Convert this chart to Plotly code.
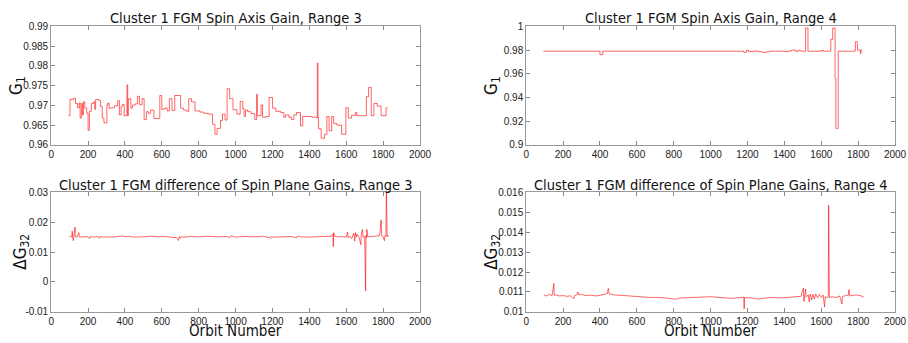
import plotly.graph_objects as go

# ---------------- data ----------------
# Top-left: spin axis gain, range 3 (step series)
tl_orbit = [93, 102, 120, 132, 143, 152, 157, 164, 170, 175, 182, 193, 200, 207, 218, 230, 236, 241,
            259, 268, 277, 286, 302, 307, 314, 329, 343, 361, 370, 379, 386, 396, 411, 415, 418, 425,
            432, 441, 455, 468, 479, 493, 504, 516, 527, 539, 557, 571, 589, 600, 614, 629, 641, 655,
            670, 702, 718, 736, 746, 761, 780, 807, 829, 852, 875, 888, 900, 918, 929, 943, 954, 968,
            986, 1007, 1025, 1039, 1046, 1054, 1066, 1084, 1104, 1114, 1118, 1121, 1138, 1146, 1164,
            1182, 1200, 1218, 1245, 1262, 1271, 1289, 1304, 1316, 1330, 1352, 1364, 1388, 1414, 1441,
            1443, 1447, 1450, 1464, 1482, 1495, 1507, 1521, 1532, 1550, 1575, 1598, 1611, 1629, 1650,
            1657, 1709, 1721, 1736, 1750, 1768, 1789, 1816, 1825]
tl_gain = [0.9674, 0.9715, 0.9718, 0.9705, 0.9694, 0.9706, 0.9668, 0.9705, 0.9676, 0.9709, 0.9693,
           0.9680, 0.9637, 0.9685, 0.9705, 0.9709, 0.9690, 0.9715, 0.9712, 0.9697, 0.9668, 0.9656,
           0.9701, 0.9706, 0.9693, 0.9694, 0.9699, 0.9712, 0.9676, 0.9697, 0.9702, 0.9674, 0.9752,
           0.9674, 0.9716, 0.9717, 0.9693, 0.9701, 0.9704, 0.9723, 0.9702, 0.9717, 0.9664, 0.9684,
           0.9680, 0.9688, 0.9667, 0.9667, 0.9725, 0.9690, 0.9693, 0.9686, 0.9717, 0.9687, 0.9725,
           0.9693, 0.9688, 0.9685, 0.9717, 0.9709, 0.9686, 0.9683, 0.9680, 0.9678, 0.9652, 0.9627,
           0.9642, 0.9662, 0.9678, 0.9663, 0.9742, 0.9717, 0.9689, 0.9678, 0.9710, 0.9692, 0.9672,
           0.9688, 0.9684, 0.9679, 0.9664, 0.9728, 0.9674, 0.9674, 0.9701, 0.9670, 0.9672, 0.9720,
           0.9693, 0.9685, 0.9682, 0.9670, 0.9676, 0.9670, 0.9664, 0.9676, 0.9682, 0.9648, 0.9672,
           0.9672, 0.9670, 0.9668, 0.9807, 0.9668, 0.9641, 0.9617, 0.9627, 0.9672, 0.9636, 0.9672,
           0.9654, 0.9650, 0.9627, 0.9694, 0.9668, 0.9675, 0.9682, 0.9674, 0.9722, 0.9745, 0.9674,
           0.9705, 0.9698, 0.9674, 0.9694, 0.9694]

# Top-right: spin axis gain, range 4 (step series)
tr_orbit = [93, 400, 415, 1180, 1195, 1205, 1240, 1260, 1280, 1300, 1320, 1410, 1420, 1440, 1460,
            1475, 1490, 1515, 1528, 1600, 1612, 1652, 1662, 1675, 1679, 1692, 1780, 1785, 1796,
            1812, 1815, 1822]
tr_gain = [0.9790, 0.9760, 0.9790, 0.9780, 0.9798, 0.9788, 0.9792, 0.9786, 0.9780, 0.9784, 0.9790,
           0.9786, 0.9792, 0.9800, 0.9790, 0.9795, 0.9790, 0.9985, 0.9790, 0.9798, 0.9790, 0.9890,
           0.9985, 0.9560, 0.9140, 0.9790, 0.9795, 0.9870, 0.9800, 0.9770, 0.9800, 0.9800]

# Bottom-left: difference of spin plane gains, range 3
bl_orbit = [98, 105, 112, 114, 116, 120, 124, 129, 131, 140, 150, 152, 165, 180, 200, 209, 212, 230,
            255, 262, 266, 280, 300, 330, 360, 390, 400, 420, 450, 480, 500, 540, 580, 620, 660, 680,
            690, 695, 700, 705, 720, 760, 800, 850, 900, 950, 970, 975, 1000, 1050, 1100, 1150, 1190,
            1195, 1200, 1250, 1300, 1330, 1335, 1350, 1400, 1450, 1500, 1520, 1528, 1530, 1532, 1540,
            1560, 1580, 1600, 1605, 1607, 1610, 1620, 1630, 1640, 1645, 1646, 1650, 1655, 1660, 1670,
            1679, 1682, 1688, 1692, 1700, 1703, 1705, 1707, 1710, 1712, 1716, 1730, 1760, 1780, 1785,
            1789, 1792, 1800, 1807, 1810, 1815, 1818, 1820, 1822, 1825, 1829]
bl_dg = [0.0152, 0.0153, 0.0150, 0.0170, 0.0151, 0.0138, 0.0152, 0.0183, 0.0151, 0.0150, 0.0165,
         0.0151, 0.0150, 0.0152, 0.0151, 0.0145, 0.0152, 0.0150, 0.0152, 0.0146, 0.0152, 0.0150,
         0.0151, 0.0150, 0.0152, 0.0154, 0.0151, 0.0153, 0.0150, 0.0152, 0.0151, 0.0153, 0.0151,
         0.0152, 0.0150, 0.0148, 0.0139, 0.0152, 0.0146, 0.0151, 0.0150, 0.0152, 0.0151, 0.0153,
         0.0151, 0.0152, 0.0149, 0.0155, 0.0150, 0.0152, 0.0151, 0.0153, 0.0147, 0.0152, 0.0150,
         0.0151, 0.0152, 0.0148, 0.0154, 0.0151, 0.0150, 0.0152, 0.0151, 0.0153, 0.0160, 0.0118,
         0.0165, 0.0152, 0.0151, 0.0152, 0.0150, 0.0158, 0.0167, 0.0148, 0.0153, 0.0145, 0.0163,
         0.0148, 0.0137, 0.0165, 0.0150, 0.0160, 0.0148, 0.0125, 0.0160, 0.0176, 0.0150, 0.0153,
         0.0062, -0.0030, 0.0155, 0.0148, 0.0176, 0.0152, 0.0151, 0.0152, 0.0155, 0.0175, 0.0208,
         0.0155, 0.0152, 0.0138, 0.0155, 0.0152, 0.0320, 0.0226, 0.0152, 0.0156, 0.0152]

# Bottom-right: difference of spin plane gains, range 4
br_orbit = [95, 110, 125, 140, 150, 152, 160, 180, 200, 220, 240, 258, 262, 275, 280, 285, 300, 320,
            350, 380, 400, 420, 440, 445, 450, 470, 500, 540, 580, 600, 640, 680, 720, 760, 790, 810,
            840, 880, 920, 960, 1000, 1040, 1080, 1120, 1160, 1180, 1182, 1184, 1220, 1260, 1300,
            1340, 1380, 1420, 1460, 1490, 1503, 1506, 1510, 1515, 1518, 1530, 1535, 1540, 1548, 1555,
            1562, 1570, 1580, 1590, 1600, 1610, 1618, 1622, 1630, 1638, 1640, 1642, 1644, 1660, 1680,
            1700, 1712, 1715, 1730, 1748, 1750, 1753, 1770, 1790, 1810, 1825, 1830]
br_dg = [0.01085, 0.01080, 0.01088, 0.01082, 0.01142, 0.01084, 0.01086, 0.01080, 0.01082, 0.01078,
         0.01081, 0.01066, 0.01082, 0.01086, 0.01100, 0.01085, 0.01088, 0.01082, 0.01084, 0.01080,
         0.01083, 0.01088, 0.01092, 0.01118, 0.01090, 0.01086, 0.01084, 0.01082, 0.01080, 0.01075,
         0.01074, 0.01072, 0.01073, 0.01068, 0.01063, 0.01064, 0.01070, 0.01071, 0.01074, 0.01072,
         0.01076, 0.01073, 0.01070, 0.01068, 0.01072, 0.01074, 0.01015, 0.01072, 0.01070, 0.01064,
         0.01070, 0.01072, 0.01070, 0.01074, 0.01076, 0.01078, 0.01120, 0.01052, 0.01080, 0.01115,
         0.01075, 0.01085, 0.01050, 0.01090, 0.01060, 0.01088, 0.01065, 0.01090, 0.01070, 0.01088,
         0.01072, 0.01085, 0.01025, 0.01075, 0.01072, 0.01075, 0.01535, 0.01300, 0.01073, 0.01076,
         0.01072, 0.01080, 0.01040, 0.01078, 0.01082, 0.01085, 0.01112, 0.01080, 0.01083, 0.01085,
         0.01082, 0.01078, 0.01075]

titles = ["Cluster 1 FGM Spin Axis Gain, Range 3", "Cluster 1 FGM Spin Axis Gain, Range 4",
          "Cluster 1 FGM difference of Spin Plane Gains, Range 3",
          "Cluster 1 FGM difference of Spin Plane Gains, Range 4"]
x_ticks = [0, 200, 400, 600, 800, 1000, 1200, 1400, 1600, 1800, 2000]
tl_yticks = [0.96, 0.965, 0.97, 0.975, 0.98, 0.985, 0.99]
tr_yticks = [0.9, 0.92, 0.94, 0.96, 0.98, 1.0]
bl_yticks = [-0.01, 0, 0.01, 0.02, 0.03]
br_yticks = [0.01, 0.011, 0.012, 0.013, 0.014, 0.015, 0.016]

# ---------------- figure ----------------
W, H = 908, 343
def px_x(a, b):
    return [a / W, b / W]
def px_y(top, bottom):
    return [1 - bottom / H, 1 - top / H]

LINE = dict(color="rgba(255,0,0,0.6)", width=1)
fig = go.Figure()
fig.add_trace(go.Scatter(x=tl_orbit, y=tl_gain, mode="lines", line=dict(shape="hv", **LINE),
                         xaxis="x", yaxis="y"))
fig.add_trace(go.Scatter(x=tr_orbit, y=tr_gain, mode="lines", line=dict(shape="hv", **LINE),
                         xaxis="x2", yaxis="y2"))
fig.add_trace(go.Scatter(x=bl_orbit, y=bl_dg, mode="lines", line=LINE, xaxis="x3", yaxis="y3"))
fig.add_trace(go.Scatter(x=br_orbit, y=br_dg, mode="lines", line=LINE, xaxis="x4", yaxis="y4"))

tickfont = dict(family="Liberation Sans, Arial, sans-serif", size=10, color="#222")
def xax(dom, anchor):
    return dict(domain=dom, anchor=anchor, range=[0, 2000], tickvals=x_ticks,
                ticktext=[str(v) for v in x_ticks], ticks="inside", ticklen=4, tickcolor="#888",
                showline=True, linecolor="#999", linewidth=1, mirror="ticks", showgrid=False,
                zeroline=False, tickfont=tickfont, fixedrange=True, ticklabeloverflow="allow")
def yax(dom, anchor, rng, vals, fmt):
    return dict(domain=dom, anchor=anchor, range=rng, tickvals=vals,
                ticktext=[fmt(v) for v in vals], ticks="inside", ticklen=4, tickcolor="#888",
                showline=True, linecolor="#999", linewidth=1, mirror="ticks", showgrid=False,
                zeroline=False, tickfont=tickfont, fixedrange=True)

def g(v):
    s = ("%.3f" % v).rstrip("0").rstrip(".")
    return s

L = px_x(49, 424)
R = px_x(532, 907)
T = px_y(21, 144)
B = px_y(193, 317)

fig.update_layout(
    width=W, height=H, margin=dict(l=0, r=0, t=0, b=0),
    paper_bgcolor="white", plot_bgcolor="white", showlegend=False,
    xaxis=xax(L, "y"), yaxis=yax(T, "x", [0.96, 0.99], tl_yticks, g),
    xaxis2=xax(R, "y2"), yaxis2=yax(T, "x2", [0.9, 1.0], tr_yticks, g),
    xaxis3=xax(L, "y3"), yaxis3=yax(B, "x3", [-0.01, 0.03], bl_yticks, g),
    xaxis4=xax(R, "y4"), yaxis4=yax(B, "x4", [0.01, 0.016], br_yticks, g),
)

FAM = "DejaVu Sans Condensed, DejaVu Sans, Verdana, sans-serif"
tfont = dict(family=FAM, size=14.5, color="#111")
ann = []
centers = [((49 + 424) / 2, 12), ((532 + 907) / 2, 12), ((49 + 424) / 2, 185), ((532 + 907) / 2, 185)]
for t, (cx, cy) in zip(titles, centers):
    ann.append(dict(text=t, x=cx / W, y=1 - cy / H, xref="paper", yref="paper", showarrow=False,
                    xanchor="center", yanchor="middle", font=tfont))
lfont = dict(family=FAM, size=17, color="#111")
ylabels = [("G<sub>1</sub>", 14, 82), ("G<sub>1</sub>", 497, 82),
           ("ΔG<sub>32</sub>", 18, 255), ("ΔG<sub>32</sub>", 497, 255)]
for t, x, y in ylabels:
    ann.append(dict(text=t, x=x / W, y=1 - y / H, xref="paper", yref="paper", showarrow=False,
                    xanchor="center", yanchor="middle", textangle=-90, font=lfont))
ofont = dict(family=FAM, size=15, color="#111")
for cx in [(49 + 424) / 2, (532 + 907) / 2]:
    ann.append(dict(text="Orbit Number", x=cx / W, y=1 - 337 / H, xref="paper", yref="paper",
                    showarrow=False, xanchor="center", yanchor="middle", font=ofont))
fig.update_layout(annotations=ann)

fig.write_html("out.html")
